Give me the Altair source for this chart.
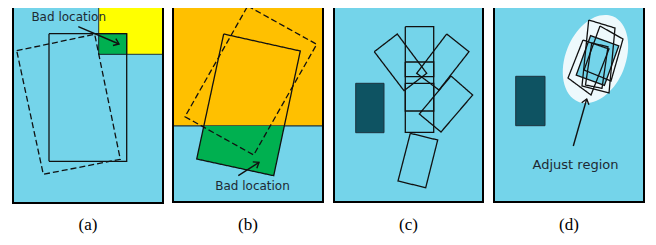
import math
import altair as alt
import pandas as pd

# ---------------- data (pixel units) ----------------
panel_left = [13, 173, 334, 494]
panel_right = [163, 323, 483, 644]
panel_bottom = [203, 202, 202, 202]
panel_labels = ["(a)", "(b)", "(c)", "(d)"]

region_kind = ["free", "placed", "free", "free", "free", "other", "bad", "obstacle", "obstacle"]
region_left = [13, 173, 173, 334, 494, 98.7, 98.7, 355.7, 515.7]
region_right = [163, 323, 323, 483, 644, 163, 126.7, 384, 545]
region_top = [-10, -10, 126, -10, -10, -10, 33.7, 83.3, 76.3]
region_bottom = [203, 126, 202, 202, 202, 54.3, 54.3, 132.7, 125.7]
kind_names = ["free", "other", "placed", "bad", "obstacle"]
kind_colors = ["#74D4EA", "#FFFF00", "#FFC000", "#00B050", "#0E5362"]

# green "bad" part in (b): rows of y with left/right x
bad_b_y = [126, 159, 175.7]
bad_b_left = [203.8, 196.7, 273.7]
bad_b_right = [284.3, 277.3, 273.7]

# outlines of the pieces (vertex lists)
shapes = {
    "a_new":   ("solid",  [(49, 33.7), (126.7, 33.7), (126.7, 161.3), (49, 161.3)]),
    "a_old":   ("dashed", [(16.7, 50.7), (94.7, 34.3), (120.3, 159.3), (43.3, 174.3)]),
    "b_new":   ("solid",  [(223.7, 34), (300.3, 51), (273.7, 175.7), (196.7, 159)]),
    "b_old":   ("dashed", [(247.7, 6), (316.7, 44.3), (253.7, 155), (185, 116.7)]),
    "c_s1":    ("solid",  [(405.3, 26.7), (433.7, 26.7), (433.7, 76.7), (405.3, 76.7)]),
    "c_s2":    ("solid",  [(405.3, 62), (433.7, 62), (433.7, 111), (405.3, 111)]),
    "c_s3":    ("solid",  [(405.3, 83.3), (433.7, 83.3), (433.7, 132.3), (405.3, 132.3)]),
    "c_left":  ("solid",  [(374.3, 51.7), (397.3, 34), (426.7, 73.3), (404, 90.7)]),
    "c_rup":   ("solid",  [(446.7, 34), (469, 51.7), (439, 90), (416.7, 73.3)]),
    "c_rlow":  ("solid",  [(451, 76), (472.7, 95), (441, 132), (419.3, 114)]),
    "c_bot":   ("solid",  [(410.3, 133.3), (437.7, 140), (425.7, 187.7), (398, 181)]),
    "d_r1":    ("solid",  [(588.7, 20), (615, 28), (609, 93), (582, 86)]),
    "d_r2":    ("solid",  [(600, 26), (623, 39), (611, 81), (584, 70)]),
    "d_r3":    ("solid",  [(583, 40), (609, 49), (591, 95), (568, 78)]),
    "d_r5":    ("solid",  [(591.7, 43), (608, 46.7), (602, 88.3), (585.5, 85)]),
}

# cyan piece inside the adjust region: centre, half width, half height, tilt
cyan_cx, cyan_cy, cyan_hw, cyan_hh, cyan_tilt = [597.5], [60.5], [15], [21], [20]
# adjust region ellipse: centre, semi axes, tilt
ell_cx, ell_cy, ell_rx, ell_ry, ell_tilt = [595.5], [59], [30], [46], [22]

# arrows (tail -> head)
arrow_x = [78.3, 238.3, 573.3]
arrow_y = [26.7, 175.7, 146]
arrow_x2 = [119, 259, 586.7]
arrow_y2 = [44, 162.3, 99]

note_text = ["Bad location", "Bad location", "Adjust region"]
note_x = [68.7, 252.5, 575.5]
note_y = [16.7, 186, 165]
note_size = [12, 12, 13]

# ---------------- tables ----------------
regions = pd.DataFrame({"kind": region_kind, "x": region_left, "x2": region_right,
                        "y": region_top, "y2": region_bottom})
frames = pd.DataFrame({"x": panel_left, "x2": panel_right, "y": [-10] * 4, "y2": panel_bottom})
labels = pd.DataFrame({"t": panel_labels, "x": [(a + b) / 2 for a, b in zip(panel_left, panel_right)],
                       "y": [225] * 4})
badb = pd.DataFrame({"y": bad_b_y, "x": bad_b_left, "x2": bad_b_right})
rows = []
for sid, (style, pts) in shapes.items():
    for k, (px, py) in enumerate(pts + [pts[0]]):
        rows.append({"id": sid, "style": style, "k": k, "x": px, "y": py})
outlines = pd.DataFrame(rows)
arrows = pd.DataFrame({"x": arrow_x, "y": arrow_y, "x2": arrow_x2, "y2": arrow_y2})
arrows["ang"] = [math.degrees(math.atan2(b2 - b, a2 - a)) % 360
                 for a, b, a2, b2 in zip(arrow_x, arrow_y, arrow_x2, arrow_y2)]
notes = pd.DataFrame({"t": note_text, "x": note_x, "y": note_y, "s": note_size})
ell = pd.DataFrame({"x": ell_cx, "y": ell_cy, "ang": ell_tilt})
cyan = pd.DataFrame({"x": cyan_cx, "y": cyan_cy, "ang": cyan_tilt})

# ---------------- chart ----------------
W, H = 640, 229
xs = alt.Scale(domain=[8, 8 + W])
ys = alt.Scale(domain=[8, 8 + H], reverse=True)
X = lambda f="x": alt.X(f"{f}:Q", scale=xs, axis=None)
Y = lambda f="y": alt.Y(f"{f}:Q", scale=ys, axis=None)

reg_layer = alt.Chart(regions).mark_rect(stroke="#1d3440", strokeWidth=1).encode(
    x=X(), x2="x2:Q", y=Y(), y2="y2:Q",
    color=alt.Color("kind:N", scale=alt.Scale(domain=kind_names, range=kind_colors), legend=None))

badb_layer = alt.Chart(badb).mark_area(orient="horizontal", color="#00B050").encode(
    y=Y(), x=X(), x2="x2:Q")

ry = ell_ry[0]
ell_path = (f"M {-ell_rx[0]/ry:.3f} 0 A {ell_rx[0]/ry:.3f} 1 0 1 0 {ell_rx[0]/ry:.3f} 0 "
            f"A {ell_rx[0]/ry:.3f} 1 0 1 0 {-ell_rx[0]/ry:.3f} 0 Z")
ell_layer = alt.Chart(ell).mark_point(shape=ell_path, filled=True, fill="#EEF9FC", opacity=1,
                                      strokeWidth=0, size=(2 * ry) ** 2).encode(
    x=X(), y=Y(), angle=alt.Angle("ang:Q", scale=None))

hw = cyan_hw[0] / cyan_hh[0]
cyan_path = f"M {-hw:.3f} -1 L {hw:.3f} -1 L {hw:.3f} 1 L {-hw:.3f} 1 Z"
cyan_layer = alt.Chart(cyan).mark_point(shape=cyan_path, filled=True, fill="#74D4EA", opacity=1,
                                        stroke="#111", strokeWidth=1.3,
                                        size=(2 * cyan_hh[0]) ** 2).encode(
    x=X(), y=Y(), angle=alt.Angle("ang:Q", scale=None))

out_layer = alt.Chart(outlines).mark_line(color="#111", strokeWidth=1.3).encode(
    x=X(), y=Y(), detail="id:N", order="k:Q",
    strokeDash=alt.StrokeDash("style:N", scale=alt.Scale(domain=["solid", "dashed"],
                                                          range=[[1, 0], [6, 3]]), legend=None))

frame_layer = alt.Chart(frames).mark_rect(fill=None, stroke="#000", strokeWidth=2).encode(
    x=X(), x2="x2:Q", y=Y(), y2="y2:Q")

arrow_layer = alt.Chart(arrows).mark_rule(color="#111", strokeWidth=1.4).encode(
    x=X(), y=Y(), x2="x2:Q", y2="y2:Q")
head_layer = alt.Chart(arrows).mark_point(shape="M -1 -0.75 L 0 0 L -1 0.75", filled=False,
                                          stroke="#111", strokeWidth=1.4, size=100, opacity=1).encode(
    x=X("x2"), y=Y("y2"), angle=alt.Angle("ang:Q", scale=None))

note_layer = alt.Chart(notes).mark_text(font="DejaVu Sans", color="#1e2a33",
                                        align="center", baseline="middle").encode(
    x=X(), y=Y(), text="t:N", size=alt.Size("s:Q", scale=None))

label_layer = alt.Chart(labels).mark_text(font="Liberation Serif", fontSize=17, color="#000",
                                          align="center", baseline="middle").encode(
    x=X(), y=Y(), text="t:N")

chart = alt.layer(reg_layer, badb_layer, ell_layer, cyan_layer, out_layer, frame_layer,
                  arrow_layer, head_layer, note_layer, label_layer).properties(
    width=W, height=H, padding=0, autosize="none").configure_view(stroke=None)

chart.save("out.html", embed_options={"renderer": "svg", "actions": False})
